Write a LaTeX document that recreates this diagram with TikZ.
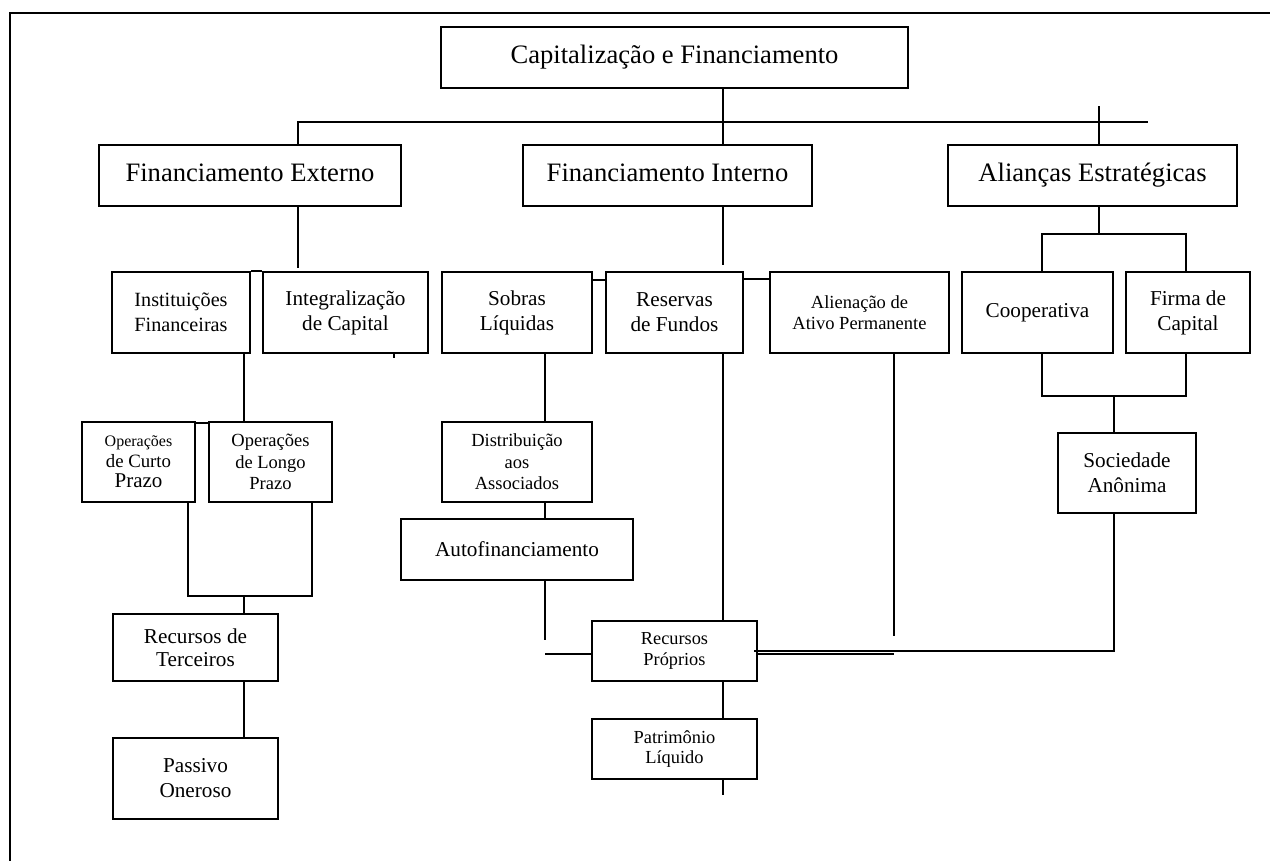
\documentclass[tikz,border=0pt]{standalone}
\usepackage{fontspec}
\setmainfont{Liberation Serif}
\newcommand\fsbig{\fontsize{26.6}{32}\selectfont}
\newcommand\fsmid{\fontsize{21.2}{25}\selectfont}
\newcommand\fsinst{\fontsize{20.2}{25}\selectfont}
\newcommand\fssml{\fontsize{18.5}{21.5}\selectfont}
\begin{document}
\begin{tikzpicture}[x=1pt,y=-1pt,
  box/.style={draw, line width=2pt, inner sep=0pt, align=center, rectangle},
  bigbox/.style={box, font=\fsbig, text height=18.6pt, text depth=5.9pt, minimum height=61},
  lnk/.style={line width=2pt}]
\useasboundingbox (0,0) rectangle (1270,861);
\draw[lnk] (9.5,861) -- (9.5,13) -- (1270,13);

% ---- boxes ----
\node[bigbox, minimum width=467] (top) at (674.5,57.5) {Capitaliza\c{c}\~ao e Financiamento};
\node[bigbox, minimum width=302] (fe) at (250,175.5) {Financiamento Externo};
\node[bigbox, minimum width=289] (fi) at (667.5,175.5) {Financiamento Interno};
\node[bigbox, minimum width=289] (al) at (1092.5,175.5) {Alian\c{c}as Estrat\'egicas};

\node[box, minimum width=138, minimum height=81, font=\fsinst] (inst) at (181,312.5) {Institui\c{c}\~oes\\Financeiras};
\node[box, minimum width=165, minimum height=81, font=\fsmid] (integ) at (345.5,312.5) {Integraliza\c{c}\~ao\\de Capital};
\node[box, minimum width=150, minimum height=81, font=\fsmid] (sobras) at (517,312.5) {Sobras\\L\'iquidas};
\node[box, minimum width=137, minimum height=81, font=\fsmid] (res) at (674.5,312.5) {Reservas\\de Fundos};
\node[box, minimum width=179, minimum height=81, font=\fssml] (alien) at (859.5,312.5) {Aliena\c{c}\~ao de\\Ativo Permanente};
\node[box, minimum width=151, minimum height=81, font=\fsmid] (coop) at (1037.5,312.5) {Cooperativa};
\node[box, minimum width=124, minimum height=81, font=\fsmid] (firma) at (1188,312.5) {Firma de\\Capital};

\node[box, minimum width=113, minimum height=80, font=\fontsize{18}{20.5}\selectfont] (opc) at (138.5,462)
  {{\fontsize{16}{19}\selectfont Opera\c{c}\~oes}\\{\fontsize{18.8}{20}\selectfont de Curto}\\{\fontsize{21}{22}\selectfont Prazo}};
\node[box, minimum width=123, minimum height=80, font=\fssml] (opl) at (270.5,462) {Opera\c{c}\~oes\\de Longo\\Prazo};
\node[box, minimum width=150, minimum height=80, font=\fssml] (dist) at (517,462) {Distribui\c{c}\~ao\\aos\\Associados};
\node[box, minimum width=138, minimum height=80, font=\fsmid] (soc) at (1127,473) {Sociedade\\An\^onima};
\node[box, minimum width=232, minimum height=61, font=\fsmid] (auto) at (517,549.5) {Autofinanciamento};

\node[box, minimum width=165, minimum height=67, font=\fontsize{21.2}{23}\selectfont] (rt) at (195.5,647.5) {Recursos de\\Terceiros};
\node[box, minimum width=165, minimum height=81, font=\fsmid] (po) at (195.5,778.5) {Passivo\\Oneroso};
\node[box, minimum width=165, minimum height=60, font=\fontsize{18.3}{20.7}\selectfont] (rp) at (674.5,651) {Recursos\\Pr\'oprios};
\node[box, minimum width=165, minimum height=60, font=\fontsize{18.4}{20.5}\selectfont] (pat) at (674.5,749) {Patrim\^onio\\L\'iquido};

% ---- helper coordinates ----
\coordinate (vA) at (723,0);
\coordinate (vB) at (298,0);
\coordinate (vC) at (1099,0);
\coordinate (vD) at (1042,0);
\coordinate (vE) at (1186,0);
\coordinate (vF) at (1114,0);
\coordinate (vG) at (244,0);
\coordinate (vH) at (188,0);
\coordinate (vI) at (312,0);
\coordinate (vJ) at (545,0);
\coordinate (vK) at (894,0);
\coordinate (vL) at (394,0);
\coordinate (hEnd) at (1148,122);
\coordinate (alTop) at (1099,106);
\coordinate (feEnd) at (298,268);
\coordinate (fiEnd) at (723,265);
\coordinate (alJ) at (1099,234);
\coordinate (tick) at (394,358);
\coordinate (opL) at (188,596);
\coordinate (opR) at (312,596);
\coordinate (autoEnd) at (545,640);
\coordinate (rpLeft) at (545,654);
\coordinate (alEnd) at (894,636);
\coordinate (cfJ) at (1114,396);
\coordinate (dblEnd) at (894,654);
\coordinate (patEnd) at (723,795);

% ---- connectors ----
\draw[lnk] (top.south -| vA) -- (fi.north -| vA);
\draw[lnk] (fe.north -| vB) |- (hEnd);
\draw[lnk] (al.north -| vC) -- (alTop);
\draw[lnk] (fe.south -| vB) -- (feEnd);
\draw[lnk] (fi.south -| vA) -- (fiEnd);
\draw[lnk] (al.south -| vC) -- (alJ);
\draw[lnk] (coop.north -| vD) |- (alJ) -| (firma.north -| vE);

\draw[lnk] (inst.north east) -- (integ.north west);
\draw[lnk] ([yshift=-9pt]sobras.north east) -- ([yshift=-9pt]res.north west);
\draw[lnk] ([yshift=-8pt]res.north east) -- ([yshift=-8pt]alien.north west);
\draw[lnk] ([yshift=-2pt]opc.north east) -- ([yshift=-2pt]opl.north west);
\draw[lnk] (integ.south -| vL) -- (tick);

\draw[lnk] (inst.south -| vG) -- (opl.north -| vG);
\draw[lnk] (opc.south -| vH) -- (opL) -- (opR) -- (opl.south -| vI);
\draw[lnk] (opL -| vG) -- (rt.north -| vG);
\draw[lnk] (rt.south -| vG) -- (po.north -| vG);

\draw[lnk] (sobras.south -| vJ) -- (dist.north -| vJ);
\draw[lnk] (dist.south -| vJ) -- (auto.north -| vJ);
\draw[lnk] (auto.south -| vJ) -- (autoEnd);
\draw[lnk] (rpLeft) -- (rp.west |- rpLeft);
\draw[lnk] (res.south -| vA) -- (rp.north -| vA);
\draw[lnk] (alien.south -| vK) -- (alEnd);
\draw[lnk] (coop.south -| vD) |- (cfJ) -| (firma.south -| vE);
\draw[lnk] (cfJ) -- (soc.north -| vF);
\draw[lnk] (soc.south -| vF) |- ([xshift=-4pt]rp.east);
\draw[lnk] (rp.east |- dblEnd) -- (dblEnd);
\draw[lnk] (rp.south -| vA) -- (pat.north -| vA);
\draw[lnk] (pat.south -| vA) -- (patEnd);
\end{tikzpicture}
\end{document}
